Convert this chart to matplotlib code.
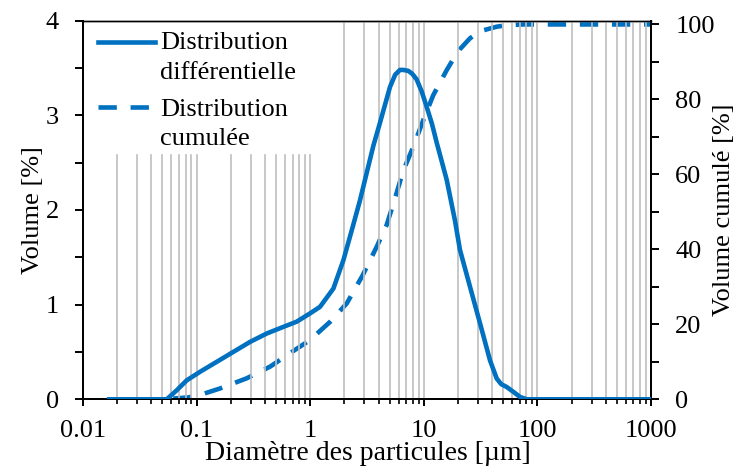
import numpy as np
import matplotlib
matplotlib.use('Agg')
import matplotlib.pyplot as plt
from matplotlib.ticker import FixedLocator, LogLocator, NullFormatter
from matplotlib.lines import Line2D

plt.rcParams['font.family'] = ['Liberation Serif', 'DejaVu Serif']
plt.rcParams['font.size'] = 19

# differential distribution (volume %)
diam_diff = [0.017, 0.03, 0.045, 0.0546, 0.0668, 0.0818, 0.107, 0.150, 0.21,
             0.295, 0.414, 0.58, 0.76, 0.995, 1.22, 1.60, 1.96, 2.39, 2.74,
             3.14, 3.6, 4.11, 4.6, 5.04, 5.6, 6.17, 6.6, 7.3, 7.9, 8.65,
             9.6, 10.6, 11.8, 13.0, 15.9, 18.8, 20.8, 25.5, 31.3, 38.3, 43.8,
             48.0, 53.7, 62.0, 70.3, 80.5, 100, 200, 500, 1000]
vol_diff = [0.0, 0.0, 0.0, 0.0, 0.095, 0.20, 0.29, 0.395, 0.50,
            0.606, 0.695, 0.765, 0.82, 0.907, 0.977, 1.17, 1.47, 1.84, 2.1,
            2.39, 2.68, 2.92, 3.13, 3.30, 3.43, 3.48, 3.48, 3.47, 3.44, 3.38,
            3.25, 3.09, 2.91, 2.71, 2.32, 1.89, 1.58, 1.19, 0.80, 0.41, 0.22,
            0.16, 0.13, 0.075, 0.025, 0.0, 0.0, 0.0, 0.0, 0.0]

# cumulative distribution (volume %)
diam_cum = [0.017, 0.05, 0.0845, 0.107, 0.161, 0.276, 0.443, 0.664, 0.995,
            1.50, 2.10, 2.9, 3.85, 4.71, 5.5, 6.6, 8.09, 9.9, 12.1, 15.9,
            18.2, 20.8, 25.5, 31.3, 43.8, 53.7, 74.7, 100, 200, 500, 1000]
vol_cum = [0.0, 0.0, 0.5, 1.15, 2.9, 5.6, 8.7, 12.3, 15.8,
           20.7, 25.6, 33.1, 40.7, 46.5, 53.0, 61.0, 67.4, 74.5, 81.1, 87.8,
           90.8, 93.4, 96.3, 98.2, 99.4, 99.8, 100, 100, 100, 100, 100]

xticks = [0.01, 0.1, 1, 10, 100, 1000]
xtick_labels = ['0.01', '0.1', '1', '10', '100', '1000']
blue = '#0070C0'
grey = '#BFBFBF'

fig = plt.figure(figsize=(7.38, 4.71), dpi=100)
ax = fig.add_axes([83/738, 71.7/471, 568/738, 378.6/471])
ax2 = ax.twinx()

ax.set_xscale('log')
ax.set_xlim(0.01, 1000)
ax.set_ylim(0, 4)
ax2.set_ylim(0, 101)

# vertical grid lines, cut under the legend area
for dec in [0.01, 0.1, 1, 10, 100]:
    for k in range(1, 10):
        xv = k * dec
        if xv < 0.02:
            continue
        top = 0.645 if xv <= 1.0001 else 1.0
        ax.axvline(xv, ymin=0, ymax=top, color=grey, lw=1.2, zorder=0)

ax.plot(diam_diff, vol_diff, color=blue, lw=3.3, solid_joinstyle='round', zorder=3)
ax2.plot(diam_cum, vol_cum, color=blue, lw=3.3, ls=(0, (4, 3)), zorder=3)

ax.xaxis.set_major_locator(FixedLocator(xticks))
ax.set_xticklabels(xtick_labels)
ax.xaxis.set_minor_locator(LogLocator(base=10, subs=np.arange(2, 10), numticks=20))
ax.xaxis.set_minor_formatter(NullFormatter())
ax.tick_params(axis='x', which='minor', direction='out', length=3.5, width=1.2)
ax.tick_params(axis='x', which='major', direction='out', length=5, width=1.4, pad=10)

ax.set_yticks([0, 1, 2, 3, 4])
ax.set_yticks(np.arange(0, 4.01, 0.5), minor=True)
ax.tick_params(axis='y', which='both', direction='out', length=5.5, width=1.4, pad=12)
ax2.set_yticks([0, 20, 40, 60, 80, 100])
ax2.set_yticks(np.arange(0, 101, 10), minor=True)
ax2.tick_params(axis='y', which='both', direction='out', length=5.5, width=1.4, pad=12)

for a in (ax, ax2):
    for s in a.spines.values():
        s.set_linewidth(1.4)
    a.spines['top'].set_linewidth(1.0)

ax.set_xlabel('Diamètre des particules [µm]', fontsize=20)
ax.xaxis.set_label_coords(0.502, -0.109)
ax.set_ylabel('Volume [%]')
ax.yaxis.set_label_coords(-0.068, 0.5)
ax2.set_ylabel('Volume cumulé [%]')
ax2.yaxis.set_label_coords(1.11, 0.5)

# legend, drawn by hand so each handle sits on the first line of its label
legend_items = [('-', ['Distribution', 'différentielle'], 0.9445, [0.924, 0.8447]),
                ((0, (4, 3)), ['Distribution', 'cumulée'], 0.772, [0.7496, 0.6717])]
for style, lines, yy, ybase in legend_items:
    ax.add_line(Line2D([0.0264, 0.127], [yy, yy], transform=ax.transAxes,
                       color=blue, lw=3.3, ls=style))
    for txt, yb in zip(lines, ybase):
        ax.text(0.1356, yb, txt, transform=ax.transAxes, ha='left', va='baseline')

ax.set_zorder(ax2.get_zorder() + 1)
ax.patch.set_visible(False)

fig.savefig('out.png', dpi=100)
